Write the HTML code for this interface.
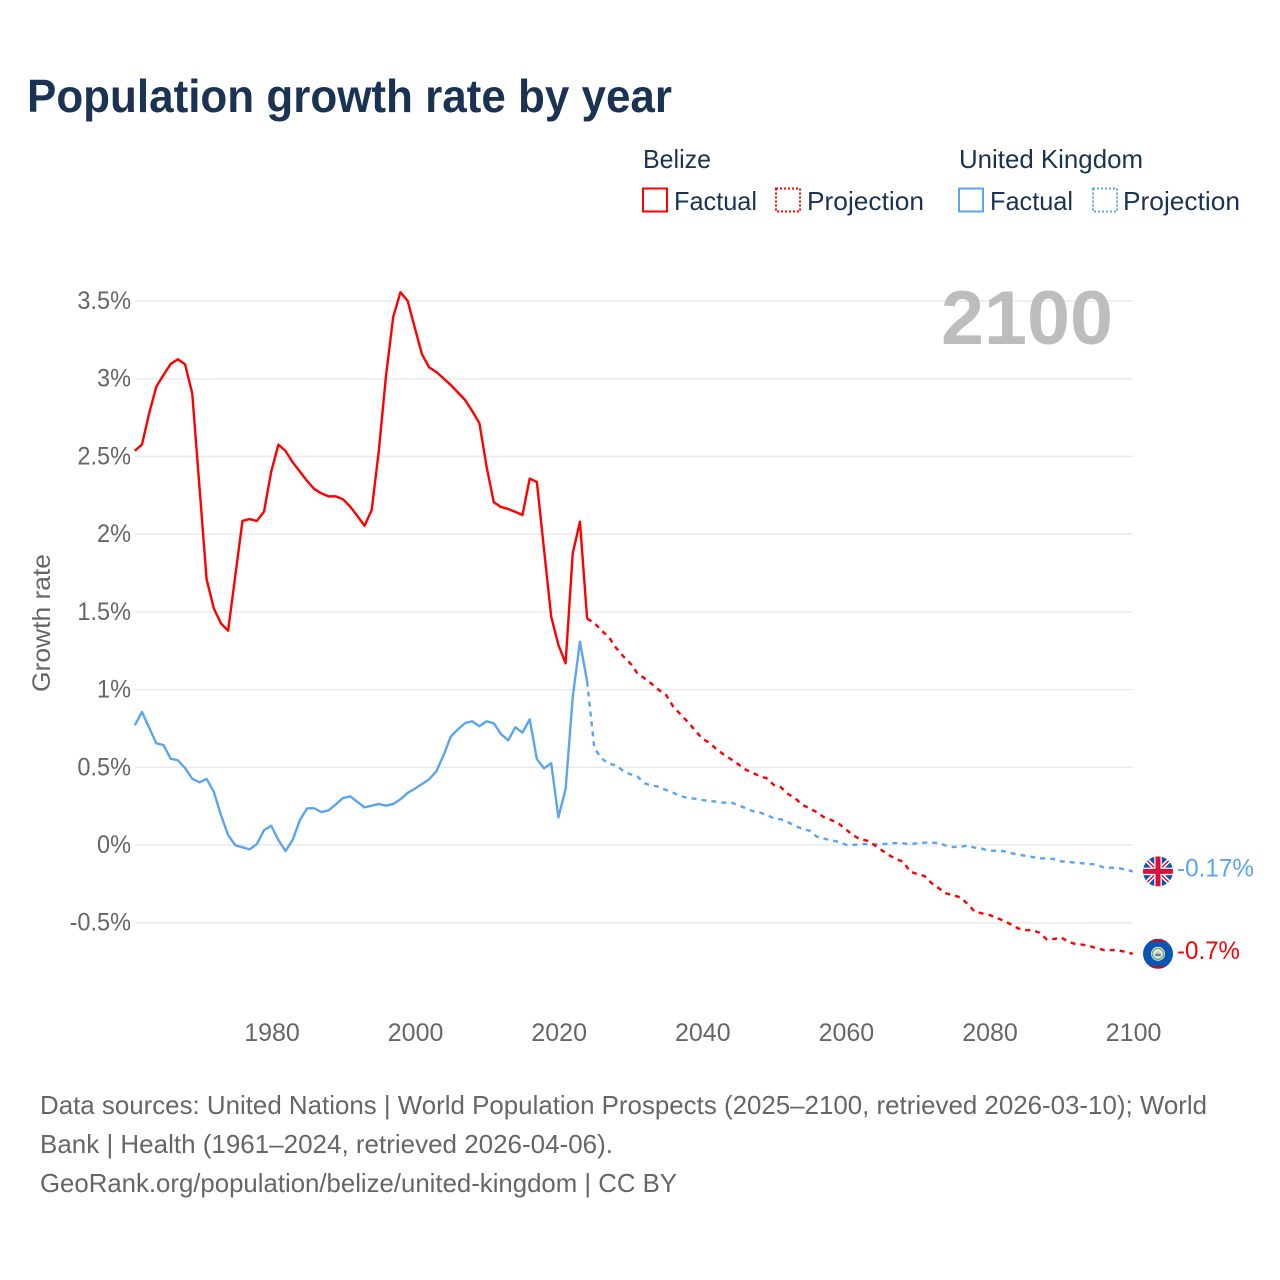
<!DOCTYPE html>
<html lang="en">
<head>
<meta charset="utf-8">
<title>Population growth rate by year</title>
<style>
html,body{margin:0;padding:0;background:#fff}
svg{display:block}
text{font-family:"Liberation Sans",sans-serif}
</style>
</head>
<body>
<svg id="chart" xmlns="http://www.w3.org/2000/svg" width="1280" height="1280" viewBox="0 0 1280 1280">
  <rect width="1280" height="1280" fill="#fff"/>
  <defs>
    <clipPath id="clip-uk"><circle cx="0" cy="0" r="15"/></clipPath>
    <clipPath id="clip-bz"><circle cx="0" cy="0" r="15"/></clipPath>
  </defs>

  <text x="27" y="112" font-size="46" font-weight="bold" fill="#1a3353" textLength="645" lengthAdjust="spacingAndGlyphs">Population growth rate by year</text>

  <g font-size="26" fill="#1a3353">
    <text x="643" y="168" textLength="68" lengthAdjust="spacingAndGlyphs">Belize</text>
    <text x="959" y="168" textLength="184" lengthAdjust="spacingAndGlyphs">United Kingdom</text>
    <rect x="643" y="188.5" width="24" height="23" fill="none" stroke="#ff0000" stroke-width="2"/>
    <text x="674" y="210" textLength="83" lengthAdjust="spacingAndGlyphs">Factual</text>
    <rect x="776" y="188.5" width="24" height="23" fill="none" stroke="#ff0000" stroke-width="2" stroke-dasharray="2 2"/>
    <text x="807" y="210" textLength="117" lengthAdjust="spacingAndGlyphs">Projection</text>
    <rect x="959" y="188.5" width="24" height="23" fill="none" stroke="#5ca5ee" stroke-width="2"/>
    <text x="990" y="210" textLength="83" lengthAdjust="spacingAndGlyphs">Factual</text>
    <rect x="1093" y="188.5" width="24" height="23" fill="none" stroke="#5ca5ee" stroke-width="2" stroke-dasharray="2 2"/>
    <text x="1123" y="210" textLength="117" lengthAdjust="spacingAndGlyphs">Projection</text>
  </g>

  <g id="grid"></g>
  <g id="yticks"></g>
  <g id="xticks"></g>

  <text transform="translate(50,623) rotate(-90)" text-anchor="middle" font-size="25" fill="#666" textLength="138" lengthAdjust="spacingAndGlyphs">Growth rate</text>

  <text x="941" y="344" font-size="76" font-weight="bold" fill="#bdbdbd" textLength="172" lengthAdjust="spacingAndGlyphs">2100</text>

  <g id="series"></g>
  <g id="ends"></g>

  <g font-size="26" fill="#666">
    <text x="40" y="1114" textLength="1167" lengthAdjust="spacingAndGlyphs">Data sources: United Nations | World Population Prospects (2025–2100, retrieved 2026-03-10); World</text>
    <text x="40" y="1153" textLength="573" lengthAdjust="spacingAndGlyphs">Bank | Health (1961–2024, retrieved 2026-04-06).</text>
    <text x="40" y="1192" textLength="637" lengthAdjust="spacingAndGlyphs">GeoRank.org/population/belize/united-kingdom | CC BY</text>
  </g>
</svg>

<script>
const factualStartYear = 1961;
const projectionStartYear = 2024;

const belizeFactual = [2.536,2.576,2.777,2.949,3.024,3.095,3.125,3.093,2.906,2.31,1.711,1.523,1.426,1.379,1.733,2.085,2.097,2.085,2.145,2.402,2.576,2.535,2.462,2.402,2.342,2.29,2.262,2.243,2.243,2.224,2.177,2.117,2.054,2.155,2.541,3.024,3.399,3.556,3.502,3.328,3.157,3.073,3.043,3.002,2.96,2.912,2.863,2.792,2.713,2.434,2.205,2.175,2.162,2.143,2.123,2.357,2.336,1.9,1.469,1.287,1.169,1.877,2.08,1.456];

const ukFactual = [0.77,0.856,0.755,0.654,0.643,0.555,0.545,0.495,0.427,0.403,0.425,0.343,0.193,0.064,-0.002,-0.015,-0.028,0.006,0.095,0.124,0.032,-0.039,0.034,0.161,0.236,0.236,0.212,0.223,0.262,0.302,0.313,0.277,0.242,0.253,0.264,0.253,0.264,0.294,0.335,0.362,0.392,0.423,0.474,0.577,0.697,0.744,0.785,0.796,0.764,0.796,0.783,0.714,0.673,0.757,0.723,0.809,0.553,0.493,0.526,0.178,0.358,0.954,1.308,1.051];

const belizeProjection = [1.456,1.43,1.379,1.34,1.27,1.216,1.169,1.105,1.072,1.036,0.997,0.965,0.89,0.841,0.793,0.74,0.686,0.658,0.618,0.583,0.553,0.521,0.487,0.465,0.444,0.429,0.386,0.371,0.328,0.3,0.257,0.236,0.21,0.178,0.161,0.14,0.101,0.064,0.037,0.028,0,-0.032,-0.064,-0.09,-0.107,-0.172,-0.187,-0.2,-0.247,-0.279,-0.311,-0.324,-0.337,-0.38,-0.429,-0.44,-0.45,-0.468,-0.487,-0.51,-0.536,-0.547,-0.549,-0.564,-0.607,-0.605,-0.594,-0.622,-0.637,-0.641,-0.65,-0.665,-0.676,-0.676,-0.678,-0.688,-0.7];

const ukProjection = [1.051,0.624,0.558,0.521,0.515,0.478,0.455,0.44,0.397,0.382,0.375,0.354,0.336,0.315,0.302,0.298,0.29,0.283,0.279,0.272,0.275,0.257,0.238,0.219,0.21,0.193,0.172,0.165,0.146,0.122,0.103,0.092,0.053,0.041,0.03,0.021,0.002,0,0.006,0.006,0.004,0.006,0.008,0.013,0.011,0.006,0.011,0.015,0.015,0.013,-0.004,-0.013,-0.011,-0.004,-0.017,-0.024,-0.037,-0.037,-0.039,-0.051,-0.062,-0.069,-0.077,-0.086,-0.086,-0.09,-0.105,-0.109,-0.114,-0.118,-0.122,-0.127,-0.146,-0.146,-0.148,-0.159,-0.17];

const yTickValues = [3.5,3,2.5,2,1.5,1,0.5,0,-0.5];
const yTickLabels = ['3.5%','3%','2.5%','2%','1.5%','1%','0.5%','0%','-0.5%'];
const xTickYears = [1980,2000,2020,2040,2060,2080,2100];

const NS = 'http://www.w3.org/2000/svg';
const RED = '#ff0000';
const BLUE = '#5ca5ee';

function tickX(year){ return 272 + (year - 1980) * 7.18; }
function xScale(year){ return 271.2 + (year - 1980) * 7.18; }
function yScale(value){ return 845 - value * 155.43; }
function make(tag, parent){
  const el = document.createElementNS(NS, tag);
  document.getElementById(parent).appendChild(el);
  return el;
}
function linePath(values, startYear){
  return values.map(function(v, i){
    return (i ? 'L' : 'M') + xScale(startYear + i).toFixed(2) + ' ' + yScale(v).toFixed(2);
  }).join(' ');
}

yTickValues.forEach(function(v, i){
  const line = make('line', 'grid');
  
  
  line.setAttribute('x1', tickX(factualStartYear) - 1);
  line.setAttribute('x2', 1133);
  line.setAttribute('y1', yScale(v));
  line.setAttribute('y2', yScale(v));
  line.setAttribute('stroke', '#ebebeb');
  line.setAttribute('stroke-width', '1.5');

  const label = make('text', 'yticks');
  
  
  label.setAttribute('x', 131);
  label.setAttribute('y', yScale(v) + 8);
  label.setAttribute('text-anchor', 'end');
  label.setAttribute('font-size', '25');
  label.setAttribute('fill', '#666');
  label.textContent = yTickLabels[i];
  label.setAttribute('textLength', (label.getComputedTextLength() * 0.94).toFixed(1));
  label.setAttribute('lengthAdjust', 'spacingAndGlyphs');
});

xTickYears.forEach(function(year){
  const label = make('text', 'xticks');
  
  
  label.setAttribute('x', tickX(year));
  label.setAttribute('y', 1041);
  label.setAttribute('text-anchor', 'middle');
  label.setAttribute('font-size', '25');
  label.setAttribute('fill', '#666');
  label.textContent = String(year);
});

const ukProjectionLine = make('path', 'series');


ukProjectionLine.setAttribute('d', linePath(ukProjection, projectionStartYear));
ukProjectionLine.setAttribute('fill', 'none');
ukProjectionLine.setAttribute('stroke', BLUE);
ukProjectionLine.setAttribute('stroke-width', '2.4');
ukProjectionLine.setAttribute('stroke-dasharray', '5 5');

const belizeProjectionLine = make('path', 'series');


belizeProjectionLine.setAttribute('d', linePath(belizeProjection, projectionStartYear));
belizeProjectionLine.setAttribute('fill', 'none');
belizeProjectionLine.setAttribute('stroke', RED);
belizeProjectionLine.setAttribute('stroke-width', '2.4');
belizeProjectionLine.setAttribute('stroke-dasharray', '5 5');

const ukFactualLine = make('path', 'series');


ukFactualLine.setAttribute('d', linePath(ukFactual, factualStartYear));
ukFactualLine.setAttribute('fill', 'none');
ukFactualLine.setAttribute('stroke', BLUE);
ukFactualLine.setAttribute('stroke-width', '2.4');
ukFactualLine.setAttribute('stroke-linejoin', 'round');

const belizeFactualLine = make('path', 'series');


belizeFactualLine.setAttribute('d', linePath(belizeFactual, factualStartYear));
belizeFactualLine.setAttribute('fill', 'none');
belizeFactualLine.setAttribute('stroke', RED);
belizeFactualLine.setAttribute('stroke-width', '2.4');
belizeFactualLine.setAttribute('stroke-linejoin', 'round');

function formatValue(v){ return (Math.round(v * 100) / 100) + '%'; }

const ukLast = ukProjection[ukProjection.length - 1];
const bzLast = belizeProjection[belizeProjection.length - 1];

const ukFlag = make('g', 'ends');


ukFlag.setAttribute('transform', 'translate(1158,' + yScale(ukLast).toFixed(1) + ')');
ukFlag.innerHTML = '<g clip-path="url(#clip-uk)">' +
  '<rect x="-15" y="-15" width="30" height="30" fill="#0b55ad"/>' +
  '<path d="M-15 -15L15 15M15 -15L-15 15" stroke="#fff" stroke-width="4.5"/>' +
  '<path d="M-15 -15L15 15M15 -15L-15 15" stroke="#d8103a" stroke-width="1.4"/>' +
  '<path d="M0 -15V15M-15 0H15" stroke="#fff" stroke-width="7.5"/>' +
  '<path d="M0 -15V15M-15 0H15" stroke="#d8103a" stroke-width="5"/>' +
  '</g>';

const bzFlag = make('g', 'ends');


bzFlag.setAttribute('transform', 'translate(1158,' + yScale(bzLast).toFixed(1) + ')');
bzFlag.innerHTML = '<g clip-path="url(#clip-bz)">' +
  '<rect x="-15" y="-15" width="30" height="30" fill="#0b55b5"/>' +
  '<rect x="-15" y="-15" width="30" height="3" fill="#a01a3c"/>' +
  '<rect x="-15" y="12" width="30" height="3" fill="#a01a3c"/>' +
  '<circle r="7" fill="#e8efe4"/>' +
  '<circle r="5.5" fill="none" stroke="#7fae73" stroke-width="1.6"/>' +
  '<circle r="2.8" fill="#e8c9a0"/>' +
  '<rect x="-2.8" y="0" width="5.6" height="2.4" fill="#4f84b8"/>' +
  '</g>';

const ukValue = make('text', 'ends');


ukValue.setAttribute('x', 1177);
ukValue.setAttribute('y', yScale(ukLast) + 5);
ukValue.setAttribute('font-size', '25');
ukValue.setAttribute('fill', BLUE);
ukValue.setAttribute('textLength', '77');
ukValue.setAttribute('lengthAdjust', 'spacingAndGlyphs');
ukValue.textContent = formatValue(ukLast);

const bzValue = make('text', 'ends');


bzValue.setAttribute('x', 1177);
bzValue.setAttribute('y', yScale(bzLast) + 5);
bzValue.setAttribute('font-size', '25');
bzValue.setAttribute('fill', RED);
bzValue.setAttribute('textLength', '63');
bzValue.setAttribute('lengthAdjust', 'spacingAndGlyphs');
bzValue.textContent = formatValue(bzLast);
</script>
</body>
</html>
